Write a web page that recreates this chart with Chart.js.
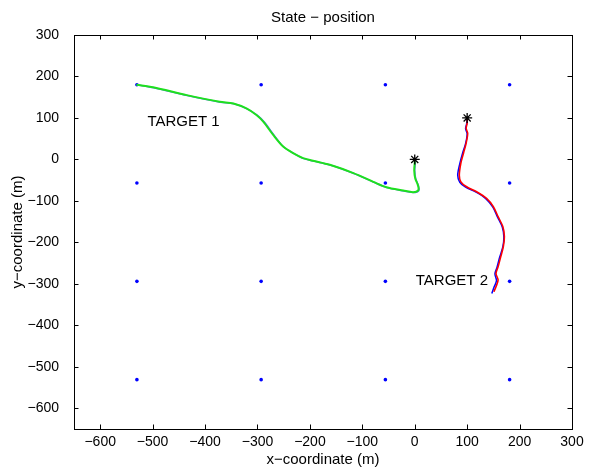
<!DOCTYPE html>
<html>
<head>
<meta charset="utf-8">
<script src="https://cdn.jsdelivr.net/npm/chart.js@4"></script>
<style>
  body { margin: 0; background: #fff; }
  canvas { display: block; }
</style>
</head>
<body>
<canvas id="chart" width="591" height="469"></canvas>
<script>
// State - position plot (two tracked targets over a sensor grid)
const xTicks = [-600, -500, -400, -300, -200, -100, 0, 100, 200, 300];
const yTicks = [-600, -500, -400, -300, -200, -100, 0, 100, 200, 300];

// sensor grid
const sensorX = [-530, -293, -56, 181];
const sensorY = [180, -57, -294, -531];

// target 1: estimate (green) and true track (blue)
const t1EstX = [0, 0, -1, 1, 6, 7, -3, -22, -54, -79, -117, -162, -194, -213, -232, -251, -270, -289, -302, -321, -346, -372, -435, -499, -531];
const t1EstY = [0, -8, -26, -46, -62, -74, -79, -75, -67, -54, -33, -13, -3, 3, 15, 31, 59, 91, 107, 123, 135, 139, 155, 174, 180];
const t1TrueX = [0, 1, 0, 2, 7, 8, -2, -21, -53, -78, -116, -160, -193, -212, -230, -250, -268, -287, -300, -320, -345, -371, -434, -498, -530];
const t1TrueY = [0, -9, -27, -47, -63, -75, -80, -76, -68, -55, -34, -14, -4, 2, 14, 30, 58, 90, 106, 122, 134, 138, 154, 173, 180];

// target 2: estimate (red) and true track (blue)
const t2EstX = [100, 100, 98, 101, 98, 93, 88, 85, 88, 99, 118, 137, 150, 159, 168, 171, 169, 164, 159, 155, 159, 155, 151];
const t2EstY = [100, 87, 75, 63, 39, 15, -9, -38, -54, -66, -78, -94, -114, -138, -162, -186, -210, -235, -259, -275, -291, -307, -319];
const t2TrueX = [100, 99, 97, 100, 97, 91, 86, 82, 86, 97, 117, 136, 149, 158, 167, 170, 168, 162, 157, 153, 156, 151, 147];
const t2TrueY = [100, 86, 74, 62, 38, 14, -10, -38, -55, -67, -79, -95, -115, -139, -163, -187, -211, -236, -260, -276, -292, -309, -323];

// start markers
const startX = [0, 100];
const startY = [0, 100];

// text annotations
const notes = [
  { text: 'TARGET 1', x: -510, y: 90 },
  { text: 'TARGET 2', x: 2, y: -293 }
];

const FONT = '"Liberation Sans", Arial, Helvetica, sans-serif';

function pts(xs, ys) {
  return xs.map((x, i) => ({ x: x, y: ys[i] }));
}

const sensors = [];
sensorY.forEach(y => sensorX.forEach(x => sensors.push({ x: x, y: y })));

function lineSet(xs, ys, color, width) {
  return {
    type: 'line',
    data: pts(xs, ys),
    borderColor: color,
    borderWidth: width,
    pointRadius: 0,
    tension: 0.3,
    fill: false
  };
}

// box, inward ticks, title and labels (MATLAB look)
const decor = {
  id: 'decor',
  afterDraw(chart) {
    const ctx = chart.ctx;
    const a = chart.chartArea;
    const sx = chart.scales.x, sy = chart.scales.y;
    const tl = 4.5;
    ctx.save();
    ctx.strokeStyle = '#000';
    ctx.lineWidth = 1;
    ctx.beginPath();
    xTicks.forEach(v => {
      const p = Math.round(sx.getPixelForValue(v)) + 0.5;
      ctx.moveTo(p, a.bottom); ctx.lineTo(p, a.bottom - tl);
      ctx.moveTo(p, a.top); ctx.lineTo(p, a.top + tl);
    });
    yTicks.forEach(v => {
      const p = Math.round(sy.getPixelForValue(v)) + 0.5;
      ctx.moveTo(a.left, p); ctx.lineTo(a.left + tl, p);
      ctx.moveTo(a.right, p); ctx.lineTo(a.right - tl, p);
    });
    ctx.stroke();
    ctx.strokeRect(Math.round(a.left) + 0.5, Math.round(a.top) + 0.5,
      Math.round(a.right - a.left), Math.round(a.bottom - a.top));

    ctx.fillStyle = '#000';
    ctx.font = '15px ' + FONT;
    ctx.textAlign = 'center';
    ctx.textBaseline = 'middle';
    const cx = (a.left + a.right) / 2;
    ctx.fillText('State \u2212 position', cx, 18);
    ctx.fillText('x\u2212coordinate (m)', cx, 460);
    ctx.save();
    ctx.translate(18, (a.top + a.bottom) / 2);
    ctx.rotate(-Math.PI / 2);
    ctx.fillText('y\u2212coordinate (m)', 0, 0);
    ctx.restore();

    ctx.textAlign = 'left';
    notes.forEach(n => {
      ctx.fillText(n.text, sx.getPixelForValue(n.x), sy.getPixelForValue(n.y));
    });
    ctx.restore();
  }
};

const tickFmt = v => String(v).replace('-', '\u2212');

// first dataset is drawn on top
new Chart(document.getElementById('chart'), {
  type: 'scatter',
  data: {
    datasets: [
      {
        data: pts(startX, startY),
        pointStyle: 'star',
        pointRadius: 5,
        borderColor: '#000',
        backgroundColor: '#000',
        borderWidth: 1.3
      },
      lineSet(t2EstX, t2EstY, '#ff0000', 1.6),
      lineSet(t1EstX, t1EstY, '#1ee01e', 2),
      lineSet(t2TrueX, t2TrueY, '#0000ff', 1.5),
      lineSet(t1TrueX, t1TrueY, '#5a78e8', 1.5),
      {
        data: sensors,
        backgroundColor: '#0000ff',
        borderColor: '#0000ff',
        pointRadius: 1.8,
        borderWidth: 0
      }
    ]
  },
  options: {
    responsive: false,
    animation: false,
    layout: { padding: { top: 35, right: 19, left: 0, bottom: 0 } },
    plugins: {
      legend: { display: false },
      tooltip: { enabled: false },
      title: { display: false }
    },
    scales: {
      x: {
        type: 'linear',
        min: -650,
        max: 300,
        grid: { display: false },
        border: { display: false },
        afterBuildTicks: s => { s.ticks = xTicks.map(v => ({ value: v })); },
        afterFit: s => { s.height = 40; },
        ticks: {
          color: '#000',
          padding: -3,
          maxRotation: 0,
          autoSkip: false,
          font: { family: FONT, size: 14 },
          callback: tickFmt
        }
      },
      y: {
        type: 'linear',
        min: -650,
        max: 300,
        grid: { display: false },
        border: { display: false },
        afterBuildTicks: s => { s.ticks = yTicks.map(v => ({ value: v })); },
        afterFit: s => { s.width = 74; },
        ticks: {
          color: '#000',
          padding: 7,
          autoSkip: false,
          font: { family: FONT, size: 14 },
          callback: tickFmt
        }
      }
    }
  },
  plugins: [decor]
});
</script>
</body>
</html>
